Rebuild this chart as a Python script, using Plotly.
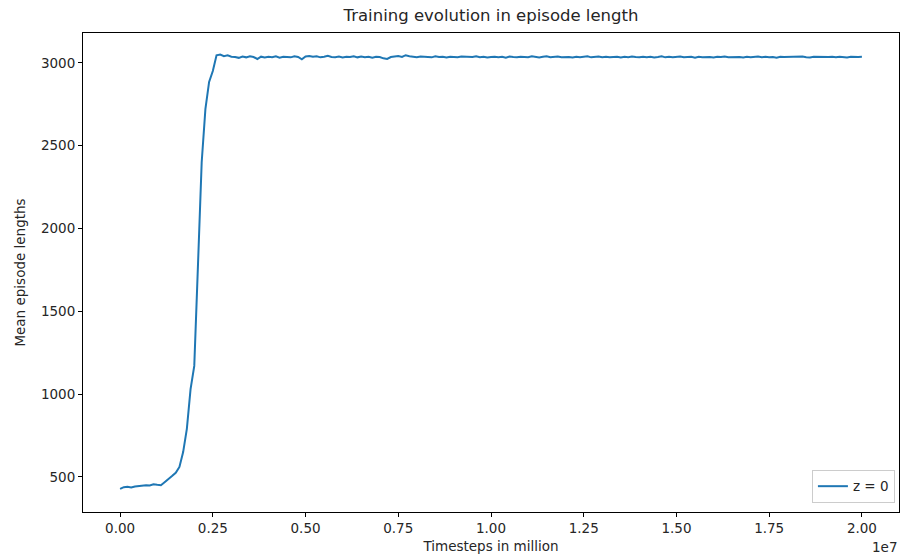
import numpy as np
import plotly.graph_objects as go

# Timesteps (every 100k steps from 0 to 20M)
timesteps = np.arange(0, 20_000_001, 100_000)

# Mean episode lengths
rise_lengths = [
    428, 438, 440, 436, 442, 445, 447, 450, 448, 455,
    452, 450, 468, 485, 505, 525, 560, 650, 790, 1030,
    1170, 1780, 2400, 2720, 2885, 2950, 3045, 3050, 3040, 3045,
    3037,
]
plateau_lengths = [
    3035, 3030, 3038, 3033, 3040, 3035, 3023, 3037, 3032, 3036,
    3034, 3039, 3031, 3036, 3035, 3033, 3040, 3035, 3021, 3038,
    3041, 3036, 3039, 3033, 3037, 3042, 3035, 3034, 3038, 3032,
    3036, 3035, 3040, 3033, 3038, 3034, 3037, 3031, 3036, 3035,
    3027, 3023, 3035, 3039, 3041, 3035, 3046, 3040, 3037, 3034,
    3038, 3036, 3035, 3033, 3039, 3035, 3036, 3032, 3037, 3035,
    3034, 3038, 3036, 3033, 3035, 3039, 3034, 3036, 3032, 3035,
    3037, 3034, 3036, 3031, 3038, 3035, 3033, 3037, 3035, 3034,
    3039, 3035, 3032, 3036, 3040, 3034, 3035, 3038, 3033, 3036,
    3035, 3032, 3037, 3034, 3036, 3039, 3033, 3035, 3038, 3034,
    3036, 3033, 3035, 3037, 3032, 3036, 3034, 3038, 3035, 3033,
    3037, 3034, 3036, 3032, 3035, 3039, 3033, 3036, 3034, 3035,
    3038, 3033, 3035, 3036, 3031, 3037, 3034, 3036, 3035, 3032,
    3036, 3035, 3038, 3033, 3034, 3037, 3035, 3032, 3036, 3034,
    3035, 3038, 3033, 3036, 3034, 3035, 3031, 3037, 3035, 3036,
    3033, 3036, 3035, 3038, 3034, 3032, 3036, 3035, 3037, 3033,
    3035, 3036, 3034, 3037, 3035, 3032, 3036, 3034, 3035, 3036,
]
mean_lengths = rise_lengths + plateau_lengths

x_tickvals = [0, 2.5e6, 5e6, 7.5e6, 1e7, 1.25e7, 1.5e7, 1.75e7, 2e7]
x_ticktext = ["0.00", "0.25", "0.50", "0.75", "1.00", "1.25", "1.50", "1.75", "2.00"]
y_tickvals = [500, 1000, 1500, 2000, 2500, 3000]

FONT = "DejaVu Sans"
TXT = "#262626"

fig = go.Figure()
fig.add_trace(go.Scatter(
    x=timesteps, y=mean_lengths, mode="lines", name="z = 0",
    line=dict(color="#1f77b4", width=2),
))

fig.update_layout(
    width=900, height=558,
    margin=dict(l=83, r=1, t=33, b=46),
    paper_bgcolor="white", plot_bgcolor="white",
    font=dict(family=FONT, size=13.5, color=TXT),
    title=dict(text="Training evolution in episode length", x=(83 + 899) / 2 / 900,
               xanchor="center", y=1 - 15 / 558, yanchor="middle", yref="container",
               font=dict(size=16.5, color=TXT)),
    showlegend=True,
    legend=dict(x=0.995, y=0.019, xanchor="right", yanchor="bottom",
                bgcolor="rgba(255,255,255,0.8)", bordercolor="#cccccc", borderwidth=1,
                font=dict(size=13.5, color=TXT)),
    xaxis=dict(range=[-1.0e6, 2.1e7], tickvals=x_tickvals, ticktext=x_ticktext,
               showgrid=False, zeroline=False, showline=True, linecolor="black", linewidth=1,
               mirror=True, ticks="outside", ticklen=4, tickcolor="black",
               title=dict(text="Timesteps in million", standoff=6, font=dict(size=13.5))),
    yaxis=dict(range=[288, 3180], tickvals=y_tickvals,
               showgrid=False, zeroline=False, showline=True, linecolor="black", linewidth=1,
               mirror=True, ticks="outside", ticklen=4, tickcolor="black",
               title=dict(text="Mean episode lengths", standoff=12, font=dict(size=13.5))),
)
fig.add_annotation(text="1e7", xref="paper", yref="paper", x=1.0, y=-0.052,
                   xanchor="right", yanchor="top", showarrow=False,
                   font=dict(size=13.5, color=TXT))

fig.write_html("out.html")
